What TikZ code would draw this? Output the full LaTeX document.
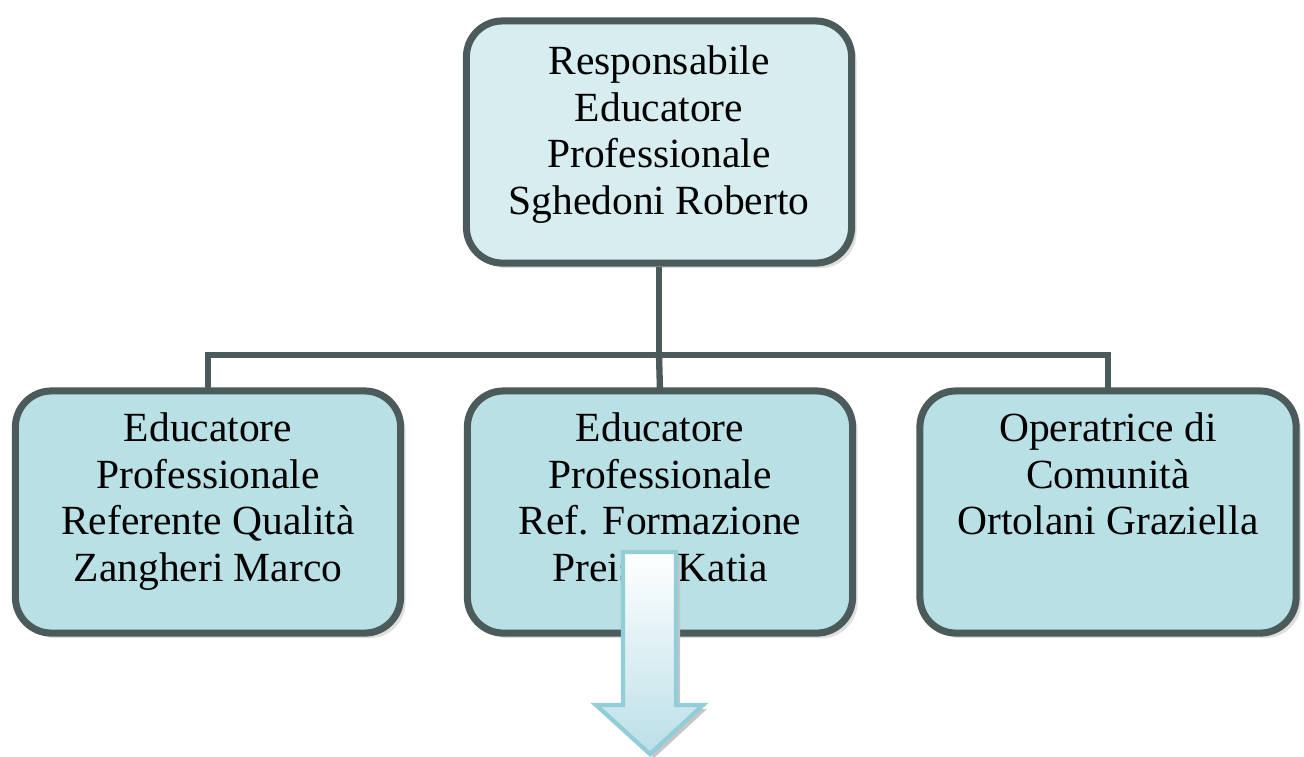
\documentclass[tikz,border=0pt]{standalone}
\usepackage{fontspec}
\setmainfont{Liberation Serif}
\usepackage{tikz}
\usetikzlibrary{positioning,shadows,calc}
\definecolor{bordo}{HTML}{4B5A5B}
\definecolor{topfill}{HTML}{D7EDF0}
\definecolor{boxfill}{HTML}{B9E0E4}
\definecolor{frecciabordo}{HTML}{92CDD8}
\definecolor{frecciafill}{HTML}{BBDFE8}
\tikzset{
  ruolo/.style={draw=bordo, line width=2pt, rounded corners=0.36cm, inner sep=0pt,
    minimum width=3.85cm, minimum height=2.42cm,
    drop shadow={shadow xshift=0.05cm, shadow yshift=-0.05cm, fill=gray!50}},
  testo/.style={anchor=north, align=center, inner sep=0pt, font=\fontsize{11.8pt}{13.2pt}\selectfont},
  linea/.style={draw=bordo, line width=1.8pt}
}
\begin{document}
\begin{tikzpicture}[x=0.01cm, y=-0.01cm]
\useasboundingbox (0,0) rectangle (1304,756);
% Collegamenti
\coordinate (bus) at (659,355);
\node[ruolo, fill=topfill] (resp) at (659,142) {};
\node[ruolo, fill=boxfill] (edu1) at (208,512) {};
\node[ruolo, fill=boxfill] (edu2) at (660,512) {};
\node[ruolo, fill=boxfill, minimum width=3.76cm] (oper) at (1108,512) {};
\draw[linea] (resp.south) -- (bus);
\draw[linea] ([yshift=-0.04cm]edu1.north) |- (bus) -| ([yshift=-0.04cm]oper.north);
\draw[linea] (bus) -- ([yshift=-0.04cm]edu2.north);
% Testi
\node[testo] (resptxt) at ([yshift=-0.28cm]resp.north) {Responsabile\\Educatore\\Professionale\\Sghedoni Roberto};
\node[testo] (edu1txt) at ([yshift=-0.25cm]edu1.north) {Educatore\\Professionale\\Referente Qualità\\Zangheri Marco};
\node[testo] (edu2txt) at ([yshift=-0.25cm]edu2.north) {Educatore\\Professionale\\Ref. Formazione\\Preisig Katia};
\node[testo] (opertxt) at ([yshift=-0.25cm]oper.north) {Operatrice di\\Comunità\\Ortolani Graziella};
% Freccia
\fill[gray!45] (627,556) -- (680,556) -- (680,709) -- (707,709) -- (654,758) -- (600,709) -- (627,709) -- cycle;
\shade[top color=white, bottom color=frecciafill, draw=frecciabordo, line width=1.2pt]
  (623,552) -- (676,552) -- (676,705) -- (703,705) -- (650,754) -- (596,705) -- (623,705) -- cycle;
\end{tikzpicture}
\end{document}
